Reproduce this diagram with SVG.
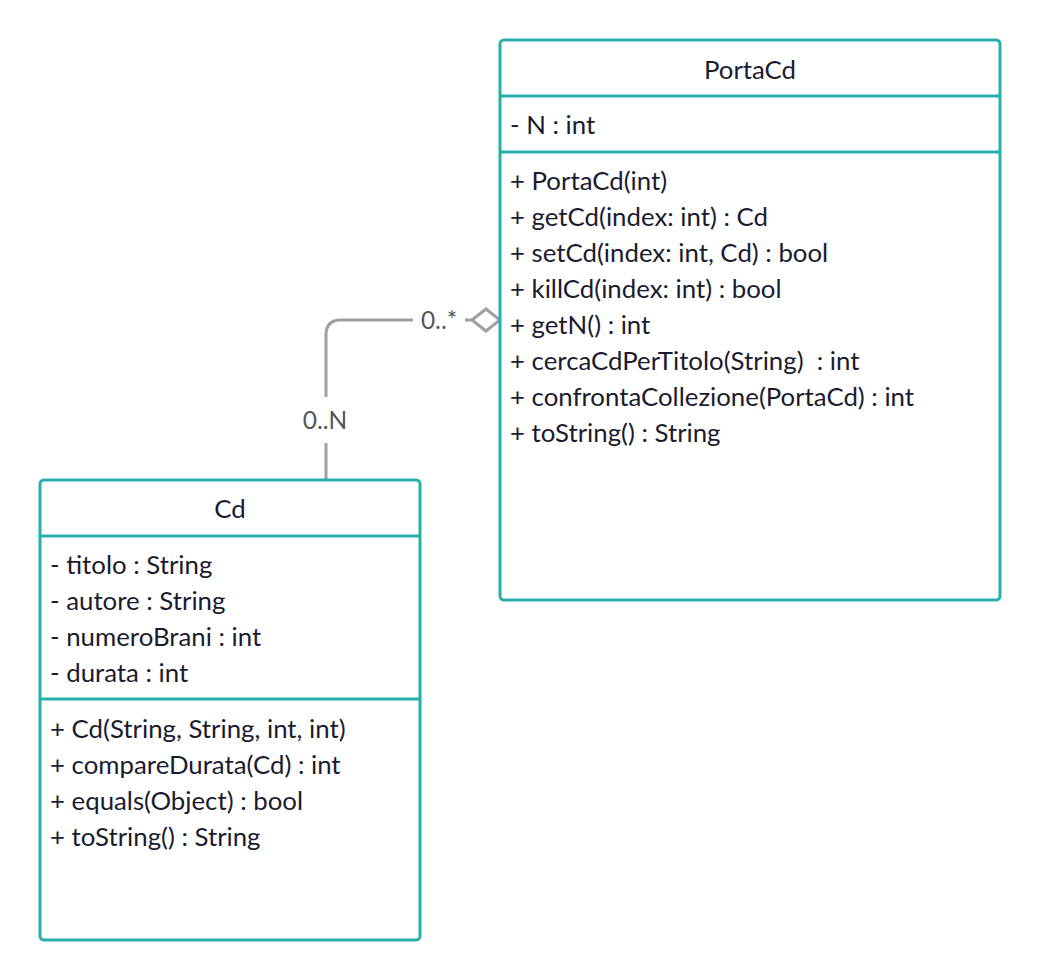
<svg xmlns="http://www.w3.org/2000/svg" width="1040" height="980" viewBox="0 0 1040 980">
<style>
.box{fill:#fff;stroke:#27b0ab;stroke-width:3}
.sep{stroke:#27b0ab;stroke-width:3}
.t{font-family:Lato,"Open Sans",sans-serif;font-size:25.8px;fill:#1b1b2f;white-space:pre}
.c{text-anchor:middle}
.lbl{font-family:Lato,"Open Sans",sans-serif;font-size:24.5px;fill:#555;text-anchor:middle}
.ln{fill:none;stroke:#a0a0a0;stroke-width:3}
</style>
<rect width="1040" height="980" fill="#fff"/>
<g id="connectors">
<path class="ln" d="M326 480 V443 M326 397 V335 Q326 320 341 320 H413 M465 320 H472"/>
<polygon points="472,320 486,309 500,320 486,331" fill="#fff" stroke="#a0a0a0" stroke-width="3"/>
<text class="lbl" x="325" y="429">0..N</text>
<text class="lbl" x="439" y="329">0..*</text>
</g>
<g id="PortaCd">
<rect class="box" x="500" y="40" width="500" height="560" rx="4"/>
<line class="sep" x1="500" y1="96" x2="1000" y2="96"/>
<line class="sep" x1="500" y1="152" x2="1000" y2="152"/>
<text class="t c" x="750" y="79">PortaCd</text>
<text class="t" x="510" y="134">- N : int</text>
<text class="t" x="510" y="190">+ PortaCd(int)</text>
<text class="t" x="510" y="226">+ getCd(index: int) : Cd</text>
<text class="t" x="510" y="262">+ setCd(index: int, Cd) : bool</text>
<text class="t" x="510" y="298">+ killCd(index: int) : bool</text>
<text class="t" x="510" y="334">+ getN() : int</text>
<text class="t" x="510" y="370" xml:space="preserve">+ cercaCdPerTitolo(String)  : int</text>
<text class="t" x="510" y="406">+ confrontaCollezione(PortaCd) : int</text>
<text class="t" x="510" y="442">+ toString() : String</text>
</g>
<g id="Cd">
<rect class="box" x="40" y="480" width="380" height="460" rx="4"/>
<line class="sep" x1="40" y1="536" x2="420" y2="536"/>
<line class="sep" x1="40" y1="699" x2="420" y2="699"/>
<text class="t c" x="230" y="518">Cd</text>
<text class="t" x="50" y="574">- titolo : String</text>
<text class="t" x="50" y="610">- autore : String</text>
<text class="t" x="50" y="646">- numeroBrani : int</text>
<text class="t" x="50" y="682">- durata : int</text>
<text class="t" x="50" y="738">+ Cd(String, String, int, int)</text>
<text class="t" x="50" y="774">+ compareDurata(Cd) : int</text>
<text class="t" x="50" y="810">+ equals(Object) : bool</text>
<text class="t" x="50" y="846">+ toString() : String</text>
</g>
</svg>
